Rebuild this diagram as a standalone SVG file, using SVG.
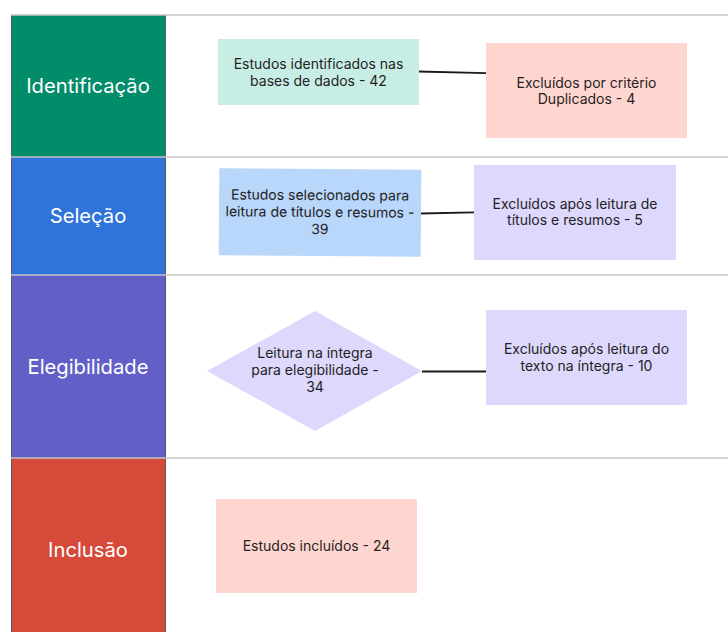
<svg xmlns="http://www.w3.org/2000/svg" width="728" height="632" viewBox="0 0 728 632">
<style>
.lane{font-family:Inter,"Noto Sans",sans-serif;font-size:20.2px;fill:#ffffff;text-anchor:middle}
.t{font-family:Inter,"Noto Sans",sans-serif;font-size:14px;fill:#1f1f24;text-anchor:middle}
.sep{stroke:#c4c4c4;stroke-width:1.5}
.conn{stroke:#1a1a1a;stroke-width:1.8;fill:none}
</style>
<rect width="728" height="632" fill="#ffffff"/>
<g id="lanes">
<rect x="11" y="15" width="155" height="142" fill="#018c6a"/>
<rect x="11" y="157" width="155" height="118" fill="#3074d9"/>
<rect x="11" y="275" width="155" height="183" fill="#625fc6"/>
<rect x="11" y="458" width="155" height="174" fill="#d64a3a"/>
<line x1="11.5" y1="15" x2="11.5" y2="632" stroke="#5a5a5a" stroke-width="1"/>
<line x1="165.5" y1="15" x2="165.5" y2="632" stroke="#5a5a5a" stroke-width="1"/>
<line class="sep" x1="11" y1="15" x2="728" y2="15"/>
<line class="sep" x1="11" y1="157" x2="728" y2="157"/>
<line class="sep" x1="11" y1="275" x2="728" y2="275"/>
<line class="sep" x1="11" y1="458" x2="728" y2="458"/>
<text class="lane" x="88" y="93">Identificação</text>
<text class="lane" x="88" y="223">Seleção</text>
<text class="lane" x="88" y="374">Elegibilidade</text>
<text class="lane" x="88" y="557">Inclusão</text>
</g>
<g id="connectors">
<line class="conn" x1="418" y1="71.5" x2="486" y2="73.2"/>
<line class="conn" x1="421" y1="213.5" x2="474" y2="212.3"/>
<line class="conn" x1="422" y1="371.5" x2="486" y2="371.5"/>
</g>
<g id="n1">
<rect x="218" y="39" width="201" height="66" fill="#c8ede4"/>
<text class="t" x="318.5" y="69">Estudos identificados nas</text>
<text class="t" x="318.5" y="85.5">bases de dados - 42</text>
</g>
<g id="n2">
<rect x="486" y="43" width="201" height="95" fill="#ffd5d0"/>
<text class="t" x="586.5" y="87.5">Excluídos por critério</text>
<text class="t" x="586.5" y="104">Duplicados - 4</text>
</g>
<g id="n3" transform="rotate(0.4 320 212.5)">
<rect x="219" y="169" width="202" height="87" fill="#b9d6fb"/>
<text class="t" x="320" y="200">Estudos selecionados para</text>
<text class="t" x="320" y="217">leitura de títulos e resumos -</text>
<text class="t" x="320" y="234">39</text>
</g>
<g id="n4">
<rect x="474" y="165" width="202" height="95" fill="#ddd8fc"/>
<text class="t" x="575" y="208.5">Excluídos após leitura de</text>
<text class="t" x="575" y="225">títulos e resumos - 5</text>
</g>
<g id="n5">
<polygon points="207,371 315,311 422,371 315,431" fill="#ddd8fc"/>
<text class="t" x="315" y="358">Leitura na íntegra</text>
<text class="t" x="315" y="375">para elegibilidade -</text>
<text class="t" x="315" y="392">34</text>
</g>
<g id="n6">
<rect x="486" y="310" width="201" height="95" fill="#ddd8fc"/>
<text class="t" x="586.5" y="354">Excluídos após leitura do</text>
<text class="t" x="586.5" y="371">texto na íntegra - 10</text>
</g>
<g id="n7">
<rect x="216" y="499" width="201" height="94" fill="#ffd5d0"/>
<text class="t" x="316.5" y="551">Estudos incluídos - 24</text>
</g>
</svg>
